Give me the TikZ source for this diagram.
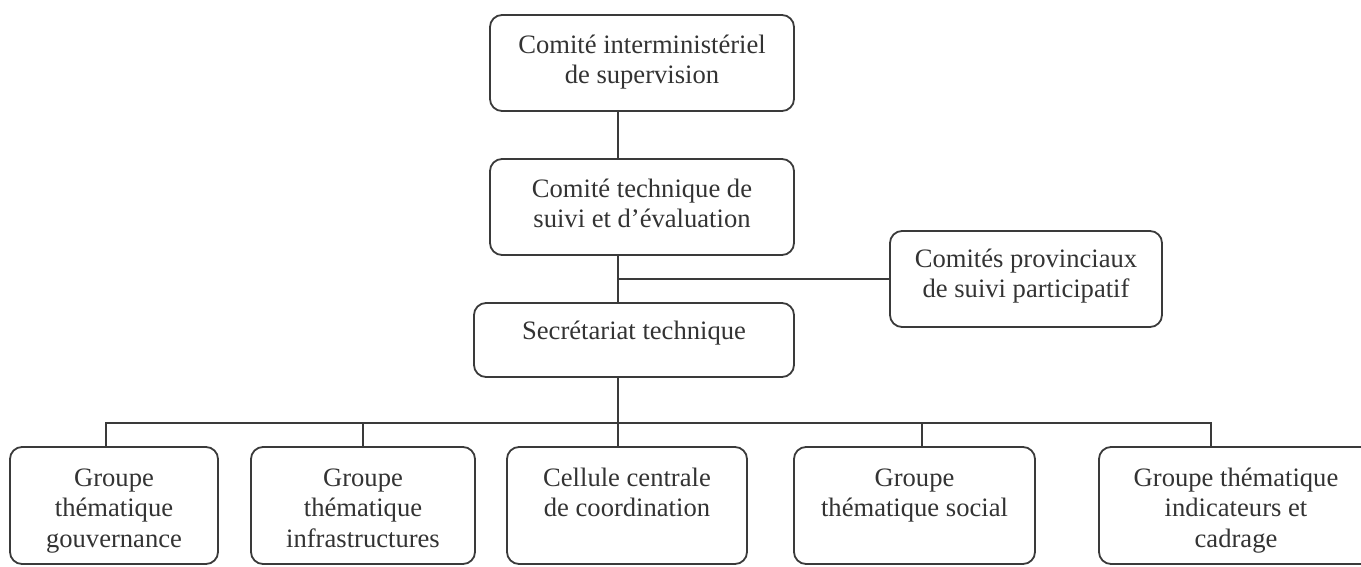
\documentclass[tikz,border=0pt]{standalone}
\usepackage{fontspec}
\setmainfont{Liberation Serif}
\usetikzlibrary{positioning}
\definecolor{linegray}{HTML}{3A3A3A}
\definecolor{textgray}{HTML}{333333}

\begin{document}
\begin{tikzpicture}[x=0.5pt,y=-0.5pt,
                    link/.style={draw=linegray,line width=0.9pt}]
  \tikzstyle{unit}=[draw=linegray,line width=0.9pt,rounded corners=6pt,inner sep=0pt,minimum height=48pt]
  \tikzstyle{title}=[inner sep=0pt,anchor=base,text=textgray,font=\fontsize{13.3}{15.3}\selectfont]
  \useasboundingbox (0,0) rectangle (1361,567);

  \node[unit,minimum width=152pt]                     (CI) at (642,63)    {};
  \node[unit,minimum width=152pt]                     (CT) at (642,207)   {};
  \node[unit,minimum width=136pt]                     (CP) at (1026,279)  {};
  \node[unit,minimum width=160pt,minimum height=37pt] (ST) at (634,340)   {};
  \node[unit,minimum width=104pt,minimum height=58.5pt]   (G1) at (114,505.5)  {};
  \node[unit,minimum width=112pt,minimum height=58.5pt]   (G2) at (363,505.5)  {};
  \node[unit,minimum width=120pt,minimum height=58.5pt]   (G3) at (627,505.5)  {};
  \node[unit,minimum width=120.5pt,minimum height=58.5pt] (G4) at (914.5,505.5) {};
  \node[unit,minimum width=137pt,minimum height=58.5pt]   (G5) at (1236,505.5) {};

  \node[below=19.5pt of CI.north,title] (tCI) {\begin{tabular}[t]{@{}c@{}}Comité interministériel\\de supervision\end{tabular}};
  \node[below=19.5pt of CT.north,title] (tCT) {\begin{tabular}[t]{@{}c@{}}Comité technique de\\suivi et d’évaluation\end{tabular}};
  \node[below=18.5pt of CP.north,title] (tCP) {\begin{tabular}[t]{@{}c@{}}Comités provinciaux\\de suivi participatif\end{tabular}};
  \node[below=18.5pt of ST.north,title] (tST) {Secrétariat technique};
  \node[below=20pt of G1.north,title] (tG1) {\begin{tabular}[t]{@{}c@{}}Groupe\\thématique\\gouvernance\end{tabular}};
  \node[below=20pt of G2.north,title] (tG2) {\begin{tabular}[t]{@{}c@{}}Groupe\\thématique\\infrastructures\end{tabular}};
  \node[below=20pt of G3.north,title] (tG3) {\begin{tabular}[t]{@{}c@{}}Cellule centrale\\de coordination\end{tabular}};
  \node[below=20pt of G4.north,title] (tG4) {\begin{tabular}[t]{@{}c@{}}Groupe\\thématique social\end{tabular}};
  \node[below=20pt of G5.north,title] (tG5) {\begin{tabular}[t]{@{}c@{}}Groupe thématique\\indicateurs et\\cadrage\end{tabular}};

  \coordinate (hub) at (618,423);
  \coordinate (b1)  at (106,423);
  \coordinate (b4)  at (922,423);
  \coordinate (b5)  at (1211,423);

  \draw[link] (CI.south -| hub) -- (CT.north -| hub);
  \draw[link] (CT.south -| hub) -- (ST.north -| hub);
  \draw[link] (CP.west) -- (CP.west -| hub);
  \draw[link] (ST.south -| hub) -- (G3.north -| hub);
  \draw[link] (G1.north -| b1) -- (b1) -- (b5) -- (G5.north -| b5);
  \draw[link] (G2.north) -- (G2.north |- hub);
  \draw[link] (G4.north -| b4) -- (b4);

\end{tikzpicture}
\end{document}
